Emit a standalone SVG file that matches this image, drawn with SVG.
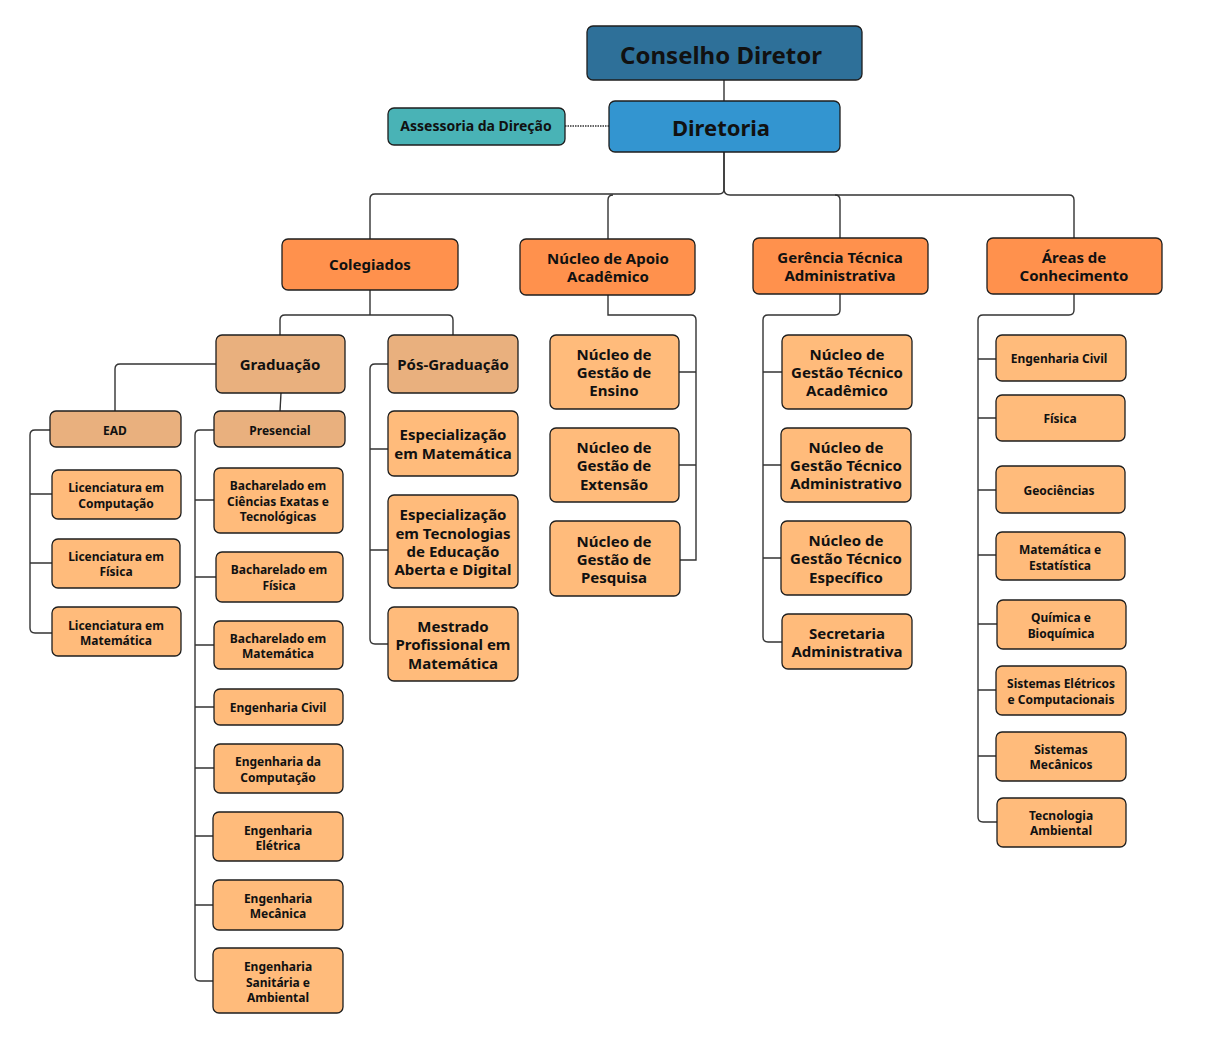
<svg xmlns="http://www.w3.org/2000/svg" width="1212" height="1048" viewBox="0 0 1212 1048">
<style>
.n rect{stroke:#1e1e1e;stroke-width:1.3}
.top rect{fill:#2E7099}
.dir rect{fill:#3395D0}
.ass rect{fill:#49B3B6}
.l2 rect{fill:#FF914D}
.tan rect{fill:#E9B07E}
.leaf rect{fill:#FFBB7B}
text{font-family:"Noto Sans","DejaVu Sans",sans-serif;font-weight:bold;fill:#111;text-anchor:middle}
.s text{font-size:12px}
.m text{font-size:15px}
#conn path{fill:none;stroke:#333;stroke-width:1.4}
</style>
<rect width="1212" height="1048" fill="#fff"/>
<g id="conn">
<path d="M724,80 V101"/>
<path d="M565,126 H609" stroke-dasharray="1.5,1"/>
<path d="M724,152 V189 q0,5 -5,5 H375 q-5,0 -5,5 V239"/>
<path d="M613,195 q-5,0 -5,5 V239"/>
<path d="M724,152 V189 q0,6 6,6 H835 q5,0 5,5 V238"/>
<path d="M835,195 H1069 q5,0 5,5 V238"/>
<path d="M370,290 V315"/>
<path d="M280,335 V320 q0,-5 5,-5 H448 q5,0 5,5 V335"/>
<path d="M216,364 H120 q-5,0 -5,5 V411"/>
<path d="M281,393 L280,411"/>
<path d="M50,430 H35 q-5,0 -5,5 V628 q0,5 5,5 H52 M30,494 H52 M30,563 H52"/>
<path d="M214,430 H200 q-5,0 -5,5 V976 q0,5 5,5 H213 M195,500 H214 M195,577 H216 M195,645 H214 M195,707 H214 M195,768 H214 M195,836 H213 M195,905 H213"/>
<path d="M388,364 H375 q-5,0 -5,5 V639 q0,5 5,5 H388 M370,449 H388 M370,550 H388"/>
<path d="M608,295 V315 H691 q5,0 5,5 V560 H680 M679,372 H696 M679,465 H696"/>
<path d="M840,294 V310 q0,5 -5,5 H768 q-5,0 -5,5 V637 q0,5 5,5 H782 M763,372 H782 M763,465 H781 M763,558 H781"/>
<path d="M1074,294 V310 q0,5 -5,5 H983 q-5,0 -5,5 V817 q0,5 5,5 H997 M978,359 H996 M978,418 H996 M978,490 H996 M978,555 H996 M978,624 H997 M978,690 H996 M978,756 H996"/>
</g>

<g id="conselho" class="n top"><rect x="587" y="26" width="275" height="54" rx="6"/><text x="721" y="64" font-size="24">Conselho Diretor</text></g>
<g id="diretoria" class="n dir"><rect x="609" y="101" width="231" height="51" rx="6"/><text x="721" y="136" font-size="22">Diretoria</text></g>
<g id="assessoria" class="n ass"><rect x="388" y="108" width="177" height="37" rx="6"/><text x="476" y="131" font-size="14">Assessoria da Direção</text></g>

<g class="m">
<g id="colegiados" class="n l2"><rect x="282" y="239" width="176" height="51" rx="6"/><text x="370" y="270">Colegiados</text></g>
<g id="nucleo-apoio" class="n l2"><rect x="520" y="239" width="175" height="56" rx="6"/><text x="608" y="264">Núcleo de Apoio</text><text x="608" y="282">Acadêmico</text></g>
<g id="gerencia" class="n l2"><rect x="753" y="238" width="175" height="56" rx="6"/><text x="840" y="263">Gerência Técnica</text><text x="840" y="281">Administrativa</text></g>
<g id="areas" class="n l2"><rect x="987" y="238" width="175" height="56" rx="6"/><text x="1074" y="263">Áreas de</text><text x="1074" y="281">Conhecimento</text></g>

<g id="graduacao" class="n tan"><rect x="216" y="335" width="129" height="58" rx="6"/><text x="280" y="370">Graduação</text></g>
<g id="pos" class="n tan"><rect x="388" y="335" width="130" height="58" rx="6"/><text x="453" y="370">Pós-Graduação</text></g>

<g id="esp-mat" class="n leaf"><rect x="388" y="411" width="130" height="65" rx="6"/><text x="453" y="440">Especialização</text><text x="453" y="459">em Matemática</text></g>
<g id="esp-tec" class="n leaf"><rect x="388" y="495" width="130" height="93" rx="6"/><text x="453" y="520">Especialização</text><text x="453" y="539">em Tecnologias</text><text x="453" y="557">de Educação</text><text x="453" y="575">Aberta e Digital</text></g>
<g id="mestrado" class="n leaf"><rect x="388" y="607" width="130" height="74" rx="6"/><text x="453" y="632">Mestrado</text><text x="453" y="650">Profissional em</text><text x="453" y="669">Matemática</text></g>

<g id="ng-ensino" class="n leaf"><rect x="550" y="335" width="129" height="74" rx="6"/><text x="614" y="360">Núcleo de</text><text x="614" y="378">Gestão de</text><text x="614" y="396">Ensino</text></g>
<g id="ng-extensao" class="n leaf"><rect x="550" y="428" width="129" height="74" rx="6"/><text x="614" y="453">Núcleo de</text><text x="614" y="471">Gestão de</text><text x="614" y="490">Extensão</text></g>
<g id="ng-pesquisa" class="n leaf"><rect x="550" y="521" width="130" height="75" rx="6"/><text x="614" y="547">Núcleo de</text><text x="614" y="565">Gestão de</text><text x="614" y="583">Pesquisa</text></g>

<g id="ngt-academico" class="n leaf"><rect x="782" y="335" width="130" height="74" rx="6"/><text x="847" y="360">Núcleo de</text><text x="847" y="378">Gestão Técnico</text><text x="847" y="396">Acadêmico</text></g>
<g id="ngt-admin" class="n leaf"><rect x="781" y="428" width="130" height="74" rx="6"/><text x="846" y="453">Núcleo de</text><text x="846" y="471">Gestão Técnico</text><text x="846" y="489">Administrativo</text></g>
<g id="ngt-especifico" class="n leaf"><rect x="781" y="521" width="130" height="74" rx="6"/><text x="846" y="546">Núcleo de</text><text x="846" y="564">Gestão Técnico</text><text x="846" y="583">Específico</text></g>
<g id="secretaria" class="n leaf"><rect x="782" y="614" width="130" height="55" rx="6"/><text x="847" y="639">Secretaria</text><text x="847" y="657">Administrativa</text></g>
</g>

<g class="s">
<g id="ead" class="n tan"><rect x="50" y="411" width="131" height="36" rx="6"/><text x="115" y="435">EAD</text></g>
<g id="presencial" class="n tan"><rect x="214" y="411" width="131" height="36" rx="6"/><text x="280" y="435">Presencial</text></g>

<g id="lic-comp" class="n leaf"><rect x="52" y="470" width="129" height="49" rx="6"/><text x="116" y="492">Licenciatura em</text><text x="116" y="508">Computação</text></g>
<g id="lic-fis" class="n leaf"><rect x="52" y="539" width="128" height="49" rx="6"/><text x="116" y="561">Licenciatura em</text><text x="116" y="576">Física</text></g>
<g id="lic-mat" class="n leaf"><rect x="52" y="607" width="129" height="49" rx="6"/><text x="116" y="630">Licenciatura em</text><text x="116" y="645">Matemática</text></g>

<g id="bach-cet" class="n leaf"><rect x="214" y="468" width="129" height="65" rx="6"/><text x="278" y="490">Bacharelado em</text><text x="278" y="506">Ciências Exatas e</text><text x="278" y="521">Tecnológicas</text></g>
<g id="bach-fis" class="n leaf"><rect x="216" y="552" width="127" height="50" rx="6"/><text x="279" y="574">Bacharelado em</text><text x="279" y="590">Física</text></g>
<g id="bach-mat" class="n leaf"><rect x="214" y="621" width="129" height="48" rx="6"/><text x="278" y="643">Bacharelado em</text><text x="278" y="658">Matemática</text></g>
<g id="eng-civil-g" class="n leaf"><rect x="214" y="689" width="129" height="36" rx="6"/><text x="278" y="712">Engenharia Civil</text></g>
<g id="eng-comp" class="n leaf"><rect x="214" y="744" width="129" height="49" rx="6"/><text x="278" y="766">Engenharia da</text><text x="278" y="782">Computação</text></g>
<g id="eng-elet" class="n leaf"><rect x="213" y="812" width="130" height="49" rx="6"/><text x="278" y="835">Engenharia</text><text x="278" y="850">Elétrica</text></g>
<g id="eng-mec" class="n leaf"><rect x="213" y="880" width="130" height="50" rx="6"/><text x="278" y="903">Engenharia</text><text x="278" y="918">Mecânica</text></g>
<g id="eng-san" class="n leaf"><rect x="213" y="948" width="130" height="65" rx="6"/><text x="278" y="971">Engenharia</text><text x="278" y="987">Sanitária e</text><text x="278" y="1002">Ambiental</text></g>

<g id="a-eng-civil" class="n leaf"><rect x="996" y="335" width="130" height="46" rx="6"/><text x="1059" y="363">Engenharia Civil</text></g>
<g id="a-fisica" class="n leaf"><rect x="996" y="395" width="129" height="46" rx="6"/><text x="1060" y="423">Física</text></g>
<g id="a-geo" class="n leaf"><rect x="996" y="466" width="129" height="47" rx="6"/><text x="1059" y="495">Geociências</text></g>
<g id="a-mat" class="n leaf"><rect x="996" y="532" width="129" height="48" rx="6"/><text x="1060" y="554">Matemática e</text><text x="1060" y="570">Estatística</text></g>
<g id="a-quim" class="n leaf"><rect x="997" y="600" width="129" height="49" rx="6"/><text x="1061" y="622">Química e</text><text x="1061" y="638">Bioquímica</text></g>
<g id="a-sel" class="n leaf"><rect x="996" y="666" width="130" height="49" rx="6"/><text x="1061" y="688">Sistemas Elétricos</text><text x="1061" y="704">e Computacionais</text></g>
<g id="a-smec" class="n leaf"><rect x="996" y="732" width="130" height="49" rx="6"/><text x="1061" y="754">Sistemas</text><text x="1061" y="769">Mecânicos</text></g>
<g id="a-tamb" class="n leaf"><rect x="997" y="798" width="129" height="49" rx="6"/><text x="1061" y="820">Tecnologia</text><text x="1061" y="835">Ambiental</text></g>
</g>
</svg>
